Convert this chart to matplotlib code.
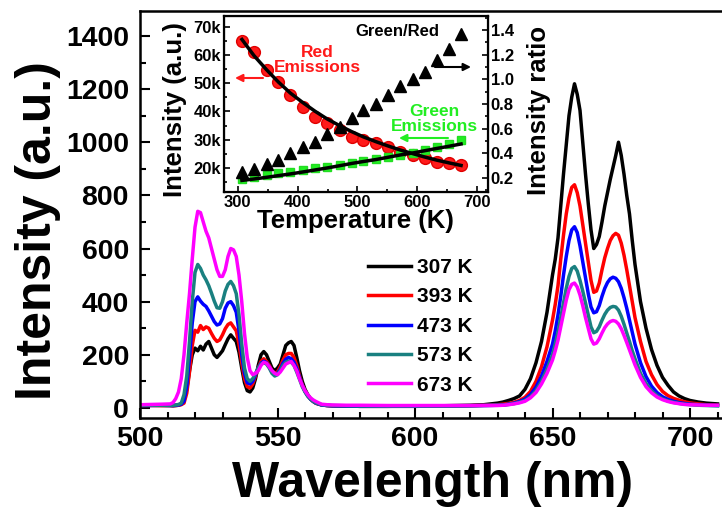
import numpy as np
import matplotlib
matplotlib.use("Agg")
import matplotlib.pyplot as plt
from matplotlib.ticker import MultipleLocator, FixedLocator

plt.rcParams['font.family'] = ['Liberation Sans', 'DejaVu Sans']
plt.rcParams['font.weight'] = 'bold'
plt.rcParams['axes.labelweight'] = 'bold'

# ---------------- main spectra data ----------------
wavelength = ([500, 504, 508] + list(range(511, 565)) +
              [566, 568, 570, 575, 580, 590, 600, 610, 620, 625, 630] +
              [632, 634, 636, 638, 640, 642, 644, 646, 648] +
              list(range(650, 681)) +
              [682, 684, 686, 688, 690, 692, 694, 696, 698, 700, 703, 706, 710])

i_307 = ([8, 10, 9] +
         [9, 8, 9, 10, 15, 30, 70, 140, 200, 225, 215, 232, 218, 240, 250, 225, 200, 190, 202, 215,
          238, 260, 275, 262, 250, 210, 150, 95, 65, 60, 75, 110, 160, 200, 212, 200, 175, 150, 140, 150,
          165, 200, 235, 245, 250, 235, 190, 140, 100, 70, 50, 35, 25, 18] +
         [12, 9, 8, 7, 6, 6, 7, 8, 10, 12, 18] +
         [22, 28, 35, 45, 70, 110, 170, 250, 360] +
         [500, 560, 640, 760, 880, 990, 1100, 1170, 1220, 1180, 1120, 1000, 880, 770, 670, 600, 615, 645, 700, 760,
          810, 860, 905, 950, 1000, 950, 880, 800, 730, 630, 540] +
         [400, 300, 220, 160, 115, 85, 60, 45, 35, 28, 22, 18, 15])

i_393 = ([9, 9, 9] +
         [9, 9, 9, 10, 12, 18, 55, 135, 235, 292, 285, 310, 295, 305, 300, 280, 262, 250, 256, 275,
          298, 314, 320, 305, 290, 240, 170, 110, 80, 75, 90, 120, 150, 175, 185, 175, 160, 140, 130, 135,
          155, 180, 200, 205, 205, 190, 160, 120, 88, 64, 46, 33, 24, 17] +
         [11, 9, 8, 7, 6, 6, 6, 7, 8, 10, 12] +
         [14, 17, 21, 28, 40, 62, 100, 155, 230] +
         [330, 390, 460, 560, 650, 730, 790, 830, 840, 810, 760, 690, 620, 550, 480, 435, 440, 470, 520, 565,
          600, 630, 648, 657, 650, 620, 575, 520, 460, 400, 340] +
         [250, 175, 125, 88, 62, 46, 36, 29, 23, 19, 15, 12, 10])

i_473 = ([9, 9, 10] +
         [9, 9, 10, 11, 14, 25, 80, 190, 320, 400, 418, 402, 390, 382, 365, 345, 325, 312, 316, 336,
          375, 395, 400, 385, 360, 290, 200, 130, 95, 90, 100, 125, 150, 168, 176, 170, 155, 135, 125, 130,
          145, 168, 183, 190, 185, 172, 148, 115, 85, 62, 45, 33, 24, 18] +
         [11, 9, 8, 7, 6, 6, 6, 7, 8, 9, 10] +
         [11, 14, 18, 24, 33, 50, 78, 120, 175] +
         [240, 290, 350, 420, 500, 570, 630, 670, 682, 660, 610, 550, 490, 430, 380, 358, 362, 385, 420, 450,
          472, 486, 492, 488, 475, 450, 415, 375, 330, 285, 240] +
         [170, 118, 82, 58, 42, 32, 25, 20, 17, 14, 12, 10, 9])

i_573 = ([9, 10, 10] +
         [10, 10, 11, 13, 18, 50, 120, 250, 400, 510, 540, 525, 500, 482, 460, 432, 402, 377, 375, 400,
          440, 465, 476, 460, 430, 350, 240, 150, 110, 100, 110, 130, 150, 165, 170, 165, 150, 130, 120, 125,
          140, 160, 172, 176, 172, 160, 135, 108, 80, 60, 44, 33, 25, 19] +
         [12, 10, 9, 8, 7, 7, 7, 7, 8, 9, 10] +
         [10, 13, 16, 21, 28, 42, 65, 100, 145] +
         [200, 240, 285, 340, 395, 450, 495, 525, 532, 515, 480, 440, 395, 350, 305, 283, 288, 305, 330, 352,
          368, 378, 382, 380, 368, 345, 315, 282, 250, 215, 185] +
         [130, 92, 64, 46, 34, 26, 21, 17, 14, 12, 10, 9, 8])

i_673 = ([12, 13, 14] +
         [15, 20, 35, 60, 110, 200, 320, 430, 560, 680, 740, 735, 700, 665, 640, 600, 560, 520, 495, 495,
          520, 570, 600, 595, 570, 500, 400, 280, 190, 140, 125, 130, 140, 160, 172, 168, 155, 140, 130, 125,
          135, 150, 165, 170, 175, 160, 140, 110, 85, 65, 50, 38, 30, 24] +
         [14, 12, 11, 10, 10, 9, 9, 9, 9, 9, 9] +
         [10, 12, 15, 19, 25, 38, 58, 90, 130] +
         [180, 215, 255, 305, 355, 405, 445, 465, 470, 455, 425, 385, 340, 300, 260, 240, 244, 260, 282, 302,
          316, 325, 329, 326, 316, 298, 273, 246, 218, 190, 162] +
         [115, 80, 57, 41, 31, 24, 19, 16, 13, 12, 11, 10, 10])

series_labels = ['307 K', '393 K', '473 K', '573 K', '673 K']
series_colors = ['#000000', '#ff0000', '#0000ff', '#1a8080', '#ff00ff']

x_ticks = [500, 550, 600, 650, 700]
y_ticks = [0, 200, 400, 600, 800, 1000, 1200, 1400]

# ---------------- inset data ----------------
temperature = [307, 327, 348, 368, 388, 409, 429, 449, 470, 490, 510, 531, 551, 571, 592, 612, 632, 653, 673]
red_em = [65100, 61200, 54800, 50600, 45900, 41700, 38200, 35800, 33500, 31100,
          29900, 28800, 27600, 25800, 24600, 23400, 22200, 21700, 21100]
red_fit = [65500, 59800, 54800, 50400, 46500, 43100, 40100, 37400, 35000, 32900,
           31000, 29300, 27800, 26400, 25100, 23900, 22800, 21800, 20900]
green_em = [16000, 16900, 17500, 18100, 18700, 19300, 19900, 20500, 21100, 21900,
            22500, 23100, 24000, 24600, 25200, 26400, 27600, 28500, 29900]
green_fit = [15600, 16100, 16700, 17300, 17900, 18600, 19300, 20000, 20800, 21600,
             22300, 23000, 23800, 24600, 25300, 26100, 26900, 27700, 28500]
ratio = [0.25, 0.276, 0.316, 0.349, 0.40, 0.45, 0.49, 0.56, 0.61, 0.69,
         0.75, 0.80, 0.87, 0.945, 1.0, 1.06, 1.16, 1.25, 1.37]

inset_x_ticks = [300, 400, 500, 600, 700]
inset_y_ticks = [20000, 30000, 40000, 50000, 60000, 70000]
inset_y_labels = ['20k', '30k', '40k', '50k', '60k', '70k']
ratio_ticks = [0.2, 0.4, 0.6, 0.8, 1.0, 1.2, 1.4]
ratio_labels = ['0.2', '0.4', '0.6', '0.8', '1.0', '1.2', '1.4']

# ---------------- figure ----------------
W, H = 722, 511
fig = plt.figure(figsize=(W / 100, H / 100), dpi=100)

def fx(px):
    return px / W

def fy(py):
    return 1 - py / H

ax = fig.add_axes([fx(140), fy(418), (W - 140) / W, (418 - 11) / H])
for ys, lab, col in zip([i_307, i_393, i_473, i_573, i_673], series_labels, series_colors):
    ax.plot(wavelength, ys, color=col, lw=2.5, label=lab)

ax.set_xlim(500, 500 + (W - 140) / 2.75)
ax.set_ylim(-38, 1494)
ax.set_xticks(x_ticks)
ax.set_yticks(y_ticks)
ax.xaxis.set_minor_locator(MultipleLocator(10))
ax.yaxis.set_minor_locator(MultipleLocator(100))
ax.tick_params(which='both', direction='in', width=1.5, top=False, right=False)
ax.tick_params(which='major', length=7, labelsize=20.5, pad=8)
ax.tick_params(which='minor', length=4)
ax.tick_params(axis='x', which='major', pad=6)
for s in ['left', 'bottom', 'top']:
    ax.spines[s].set_linewidth(1.8)
ax.spines['right'].set_visible(False)
for lbl in ax.get_xticklabels() + ax.get_yticklabels():
    lbl.set_fontweight('bold')

fig.text(fx(433), fy(497), 'Wavelength (nm)', fontsize=36, fontweight='bold',
         ha='center', va='baseline')
fig.text(fx(51), fy(231), 'Intensity (a.u.)', fontsize=36, fontweight='bold',
         ha='center', va='baseline', rotation=90, rotation_mode='anchor')

leg = ax.legend(loc='upper left', bbox_to_anchor=(fx(368), fy(258)), bbox_transform=fig.transFigure,
                frameon=False, fontsize=15, handlelength=2.05, handletextpad=0.3,
                labelspacing=0.5, borderpad=0, borderaxespad=0)
for t in leg.get_texts():
    t.set_fontweight('bold')

# ---------------- inset ----------------
ins = fig.add_axes([fx(224), fy(192), (488 - 224) / W, (192 - 16) / H])
ins.set_facecolor('white')
ins.plot(temperature, red_em, 'o', color='#ff1a1a', ms=8.5, mec='#e00000', zorder=2)
ins.plot(temperature, green_em, 's', color='#22ee22', ms=6, mec='#22dd22', zorder=2)
ins.plot(temperature, red_fit, '-', color='black', lw=2.5, zorder=3)
ins.plot(temperature, green_fit, '-', color='black', lw=2.5, zorder=3)
ins.set_xlim(277, 718)
ins.set_ylim(11500, 73800)
ins.set_xticks(inset_x_ticks)
ins.xaxis.set_minor_locator(MultipleLocator(50))
ins.yaxis.set_major_locator(FixedLocator(inset_y_ticks))
ins.set_yticklabels(inset_y_labels)
ins.yaxis.set_minor_locator(MultipleLocator(5000))
ins.tick_params(which='both', direction='in', width=1.2, top=False, right=False)
ins.tick_params(which='major', length=4, labelsize=12, pad=2)
ins.tick_params(which='minor', length=2.5)
for s in ins.spines.values():
    s.set_linewidth(1.6)

ins2 = ins.twinx()
ins2.plot(temperature, ratio, '^', color='black', ms=9)
ins2.set_ylim(0.0865, 1.514)
ins2.yaxis.set_major_locator(FixedLocator(ratio_ticks))
ins2.set_yticklabels(ratio_labels)
ins2.yaxis.set_minor_locator(MultipleLocator(0.1))
ins2.tick_params(which='both', direction='in', width=1.2)
ins2.tick_params(which='major', length=4, labelsize=12, pad=2)
ins2.tick_params(which='minor', length=2.5)
for lbl in (ins.get_xticklabels() + ins.get_yticklabels() + ins2.get_yticklabels()):
    lbl.set_fontweight('bold')

fig.text(fx(355), fy(228), 'Temperature (K)', fontsize=18.5, fontweight='bold',
         ha='center', va='baseline')
fig.text(fx(182), fy(110), 'Intensity (a.u.)', fontsize=18.5, fontweight='bold',
         ha='center', va='baseline', rotation=90, rotation_mode='anchor')
fig.text(fx(546), fy(110), 'Intensity ratio', fontsize=18.5, fontweight='bold',
         ha='center', va='baseline', rotation=90, rotation_mode='anchor')

fig.text(fx(397), fy(32), 'Green/Red', fontsize=12, fontweight='bold', color='black',
         ha='center', va='center')
fig.text(fx(317), fy(60), 'Red\nEmissions', fontsize=12.5, fontweight='bold', color='#ff1a1a',
         ha='center', va='center', linespacing=0.95)
fig.text(fx(434), fy(119), 'Green\nEmissions', fontsize=12.5, fontweight='bold', color='#22ee22',
         ha='center', va='center', linespacing=0.95)

arrow_kw = dict(arrowstyle='-|>', lw=1.5, mutation_scale=11, shrinkA=0, shrinkB=0)
fig.add_artist(matplotlib.patches.FancyArrowPatch((fx(263), fy(78)), (fx(235), fy(78)),
               transform=fig.transFigure, color='#ff1a1a', **arrow_kw))
fig.add_artist(matplotlib.patches.FancyArrowPatch((fx(435), fy(67)), (fx(471), fy(67)),
               transform=fig.transFigure, color='black', **arrow_kw))
fig.add_artist(matplotlib.patches.FancyArrowPatch((fx(448), fy(138)), (fx(399), fy(138)),
               transform=fig.transFigure, color='#22ee22', **arrow_kw))

fig.savefig('out.png', dpi=100)
